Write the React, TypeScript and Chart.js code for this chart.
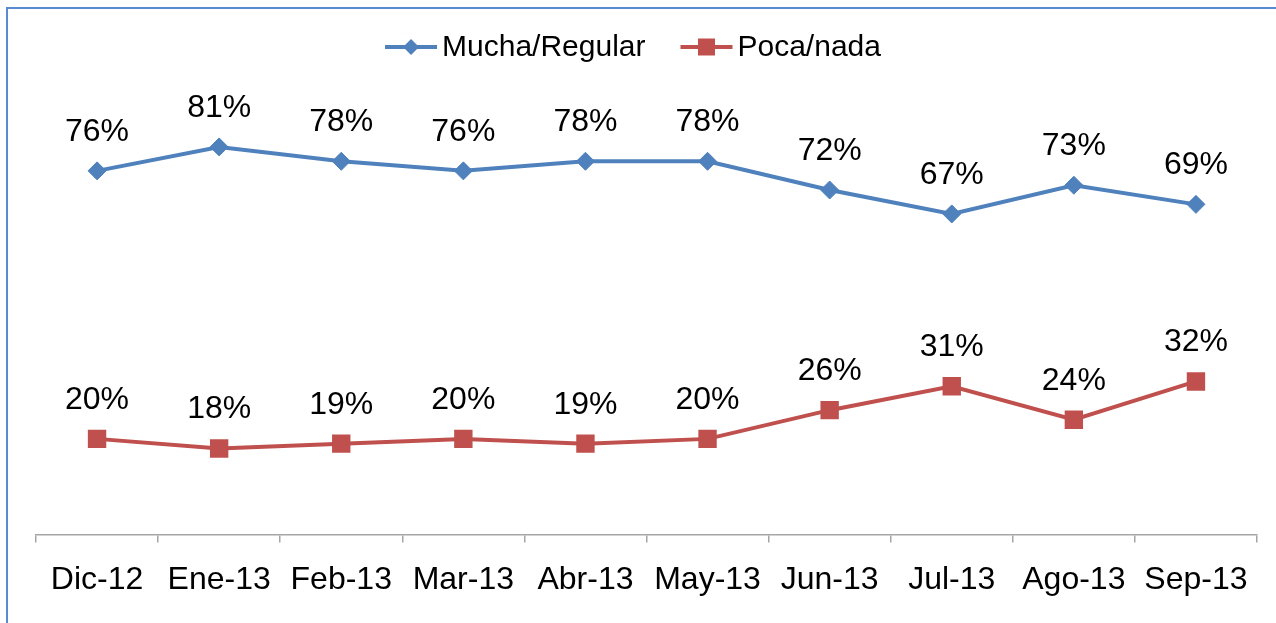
import React, { useEffect, useRef } from 'react';
import { Chart, registerables } from 'chart.js';

Chart.register(...registerables);

const categories = ['Dic-12', 'Ene-13', 'Feb-13', 'Mar-13', 'Abr-13', 'May-13', 'Jun-13', 'Jul-13', 'Ago-13', 'Sep-13'];
const muchaRegular = [76, 81, 78, 76, 78, 78, 72, 67, 73, 69];
const pocaNada = [20, 18, 19, 20, 19, 20, 26, 31, 24, 32];
const seriesNames = ['Mucha/Regular', 'Poca/nada'];

const BLUE = '#4f81bd';
const RED = '#c0504d';
const FONT = '"Liberation Sans", Arial, sans-serif';
const LEGEND_SIZE = 30;
const LABEL_SIZE = 32;

const framePlugin = {
  id: 'frame',
  beforeDraw(chart: any) {
    const { ctx, width, height } = chart;
    ctx.save();
    ctx.fillStyle = '#ffffff';
    ctx.fillRect(0, 0, width, height);
    ctx.fillStyle = '#5a8ad0';
    ctx.fillRect(6, 7, width - 6, 2);
    ctx.fillRect(6, 7, 2, height - 7);
    ctx.restore();
  },
};

const dataLabelPlugin = {
  id: 'dataLabels',
  afterDatasetsDraw(chart: any) {
    const { ctx } = chart;
    ctx.save();
    ctx.font = `${LABEL_SIZE}px ${FONT}`;
    ctx.fillStyle = '#000';
    ctx.textAlign = 'center';
    ctx.textBaseline = 'alphabetic';
    chart.data.datasets.forEach((ds: any, i: number) => {
      const meta = chart.getDatasetMeta(i);
      meta.data.forEach((pt: any, j: number) => {
        ctx.fillText(`${ds.data[j]}%`, pt.x, pt.y - 30);
      });
    });
    ctx.restore();
  },
};

const legendPlugin = {
  id: 'customLegend',
  afterDraw(chart: any) {
    const { ctx } = chart;
    ctx.save();
    ctx.font = `${LEGEND_SIZE}px ${FONT}`;
    const lineLen = 52;
    const gapText = 5;
    const gapItems = 35;
    const widths = seriesNames.map((n) => ctx.measureText(n).width);
    const total = widths.reduce((a, w) => a + lineLen + gapText + w, 0) + gapItems * (seriesNames.length - 1);
    let x = 633 - total / 2;
    const y = 47;
    const colors = [BLUE, RED];
    seriesNames.forEach((name, i) => {
      ctx.strokeStyle = colors[i];
      ctx.lineWidth = 4;
      ctx.beginPath();
      ctx.moveTo(x, y);
      ctx.lineTo(x + lineLen, y);
      ctx.stroke();
      const cx = x + lineLen / 2;
      ctx.fillStyle = colors[i];
      if (i === 0) {
        const r = 8;
        ctx.beginPath();
        ctx.moveTo(cx - r, y);
        ctx.lineTo(cx, y - r);
        ctx.lineTo(cx + r, y);
        ctx.lineTo(cx, y + r);
        ctx.closePath();
        ctx.fill();
      } else {
        const h = 8.5;
        ctx.fillRect(cx - h, y - h, 2 * h, 2 * h);
      }
      ctx.fillStyle = '#000';
      ctx.textAlign = 'left';
      ctx.textBaseline = 'middle';
      ctx.fillText(name, x + lineLen + gapText, y + 1);
      x += lineLen + gapText + widths[i] + gapItems;
    });
    ctx.restore();
  },
};

export default function App() {
  const ref = useRef<HTMLCanvasElement | null>(null);
  useEffect(() => {
    if (!ref.current) return;
    const chart = new Chart(ref.current, {
      type: 'line',
      data: {
        labels: categories,
        datasets: [
          {
            label: seriesNames[0],
            data: muchaRegular,
            borderColor: BLUE,
            backgroundColor: BLUE,
            borderWidth: 4,
            pointStyle: 'rectRot',
            pointRadius: 9,
            pointBorderWidth: 1,
            pointBackgroundColor: BLUE,
            pointBorderColor: BLUE,
            tension: 0,
          },
          {
            label: seriesNames[1],
            data: pocaNada,
            borderColor: RED,
            backgroundColor: RED,
            borderWidth: 4,
            pointStyle: 'rect',
            pointRadius: 13,
            pointBorderWidth: 0,
            pointBackgroundColor: RED,
            pointBorderColor: RED,
            tension: 0,
          },
        ],
      },
      options: {
        responsive: false,
        animation: false,
        layout: { padding: { left: 36, right: 19, top: 56, bottom: 6 } },
        plugins: {
          legend: { display: false },
          tooltip: { enabled: false },
        },
        scales: {
          x: {
            offset: true,
            grid: {
              offset: true,
              drawOnChartArea: false,
              drawTicks: true,
              tickLength: 8,
              color: '#a6a6a6',
              lineWidth: 1.5,
            },
            border: { display: true, color: '#a6a6a6', width: 1.5 },
            ticks: {
              font: { family: FONT, size: LABEL_SIZE },
              color: '#000',
              padding: 18,
              maxRotation: 0,
              autoSkip: false,
            },
          },
          y: {
            display: false,
            min: 0,
            max: 100,
          },
        },
      },
      plugins: [framePlugin, dataLabelPlugin, legendPlugin],
    });
    return () => chart.destroy();
  }, []);
  return (
    <canvas
      ref={ref}
      width={1276}
      height={623}
      style={{ position: 'fixed', left: 0, top: 0, display: 'block' }}
    />
  );
}
